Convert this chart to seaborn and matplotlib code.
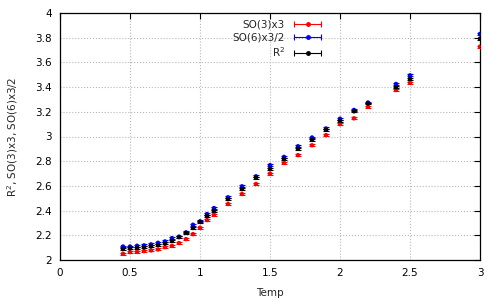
import numpy as np
import pandas as pd
import matplotlib
matplotlib.use('Agg')
import matplotlib.pyplot as plt
import seaborn as sns
from matplotlib.lines import Line2D
from matplotlib.legend_handler import HandlerLine2D

#########   data ###################################
temp = [0.45, 0.5, 0.55, 0.6, 0.65, 0.7, 0.75, 0.8, 0.85, 0.9, 0.95, 1.0, 1.05, 1.1,
        1.2, 1.3, 1.4, 1.5, 1.6, 1.7, 1.8, 1.9, 2.0, 2.1, 2.2, 2.4, 2.5, 3.0]
so3x3 = [2.051, 2.065, 2.068, 2.073, 2.078, 2.086, 2.105, 2.116, 2.138, 2.17, 2.21, 2.262, 2.324, 2.367,
         2.454, 2.535, 2.616, 2.70, 2.786, 2.849, 2.929, 3.011, 3.10, 3.147, 3.24, 3.376, 3.435, 3.727]
so6x32 = [2.11, 2.11, 2.116, 2.119, 2.127, 2.14, 2.151, 2.178, 2.19, 2.224, 2.286, 2.313, 2.373, 2.421,
          2.508, 2.597, 2.678, 2.768, 2.835, 2.921, 2.992, 3.065, 3.144, 3.215, 3.275, 3.425, 3.495, 3.83]
r2 = [2.09, 2.095, 2.10, 2.103, 2.111, 2.122, 2.135, 2.157, 2.186, 2.22, 2.26, 2.31, 2.356, 2.40,
      2.494, 2.575, 2.668, 2.74, 2.82, 2.902, 2.973, 3.054, 3.128, 3.204, 3.267, 3.397, 3.468, 3.792]
err = 0.008   # error bars are tiny, same size everywhere

series = ['SO(3)x3', 'SO(6)x3/2', r'R$^2$']
colors = ['#ff0000', '#0000ff', '#000000']

df = pd.concat([pd.DataFrame({'Temp': temp, 'val': v, 'series': s})
                for v, s in zip([so3x3, so6x32, r2], series)], ignore_index=True)

sns.set_style('white')
plt.rcParams['font.family'] = ['DejaVu Sans']
fsize = 7.5

fig = plt.figure(figsize=(5, 3), dpi=100)
ax = fig.add_axes([0.12, 0.133, 0.84, 0.824])

for s, c in zip(series, colors):
    sub = df[df['series'] == s]
    ax.errorbar(sub['Temp'], sub['val'], yerr=err, fmt='none', ecolor=c,
                elinewidth=0.8, capsize=2, capthick=0.8, zorder=3)
sns.scatterplot(data=df, x='Temp', y='val', hue='series', palette=colors,
                s=10, edgecolor='none', legend=False, ax=ax, zorder=4)

ax.set_xlim(0, 3)
ax.set_ylim(2, 4)
ax.set_xticks(np.arange(0, 3.01, 0.5))
ax.set_xticklabels(['0', '0.5', '1', '1.5', '2', '2.5', '3'])
ax.set_yticks(np.arange(2, 4.01, 0.2))
ax.set_yticklabels(['2', '2.2', '2.4', '2.6', '2.8', '3', '3.2', '3.4', '3.6', '3.8', '4'])
ax.tick_params(direction='in', length=4, width=0.8, top=True, right=True,
               labelsize=fsize, colors='black', pad=6)
ax.grid(True, color='#b8b8b8', linestyle=':', linewidth=0.8)
for sp in ax.spines.values():
    sp.set_color('black')
    sp.set_linewidth(0.9)
ax.set_xlabel('Temp', fontsize=fsize, labelpad=7)
ax.set_ylabel(r'R$^2$, SO(3)x3, SO(6)x3/2', fontsize=fsize, labelpad=11)

# gnuplot style key: text first, then a horizontal bar with caps and a dot
handles = []
hmap = {}
for c in colors:
    bar = Line2D([], [], color=c, lw=0.8, marker='|', ms=5, mew=0.8)
    dot = Line2D([], [], color=c, lw=0, marker='o', ms=2.5)
    hmap[bar] = HandlerLine2D(numpoints=2)
    hmap[dot] = HandlerLine2D(numpoints=1)
    handles.append((bar, dot))
leg = ax.legend(handles, series, handler_map=hmap, loc='upper center',
                bbox_to_anchor=(0.52, 1.01), frameon=False, markerfirst=False,
                fontsize=fsize, handlelength=3.2, handletextpad=0.6,
                labelspacing=0.25)
for t in leg.get_texts():
    t.set_ha('right')

fig.savefig('out.png', dpi=100)
